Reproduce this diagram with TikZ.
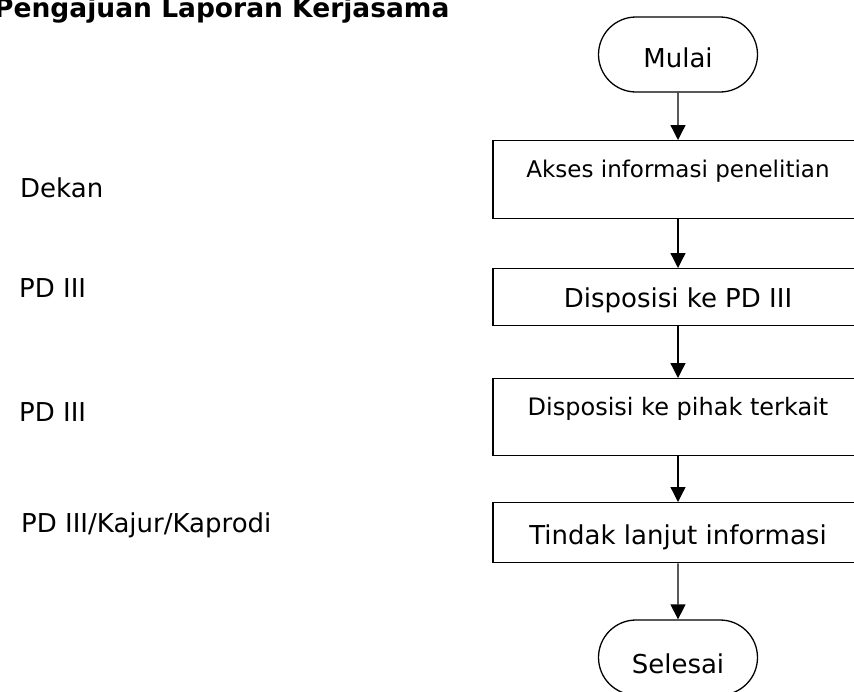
\documentclass[tikz,border=0pt]{standalone}
\usepackage{fontspec}
\setmainfont{DejaVu Sans}
\usetikzlibrary{arrows.meta,positioning,shapes.misc}
\tikzset{
  termbox/.style={
    rounded rectangle,
    draw=black,
    line width=1.3pt,
    minimum width=159pt,
    minimum height=75pt,
    inner sep=0pt,
    font=\fontsize{26}{30}\selectfont
  },
  procbox/.style={
    rectangle,
    draw=black,
    line width=1.3pt,
    minimum width=370pt,
    inner sep=0pt,
    align=center,
    font=\fontsize{26}{30}\selectfont
  },
  rolelabel/.style={anchor=base west,inner sep=0pt,font=\fontsize{26}{30}\selectfont},
  flowarrow/.style={-{Triangle[length=15pt,width=15pt]},line width=1.3pt,draw=black}
}

\begin{document}
\begin{tikzpicture}[x=1pt,y=-1pt]
  \useasboundingbox (0,0) rectangle (854,691);
  \clip (0,0) rectangle (854,691);

  \node[anchor=base west, inner sep=0pt, font=\fontsize{26.5}{30}\selectfont\bfseries] (judul) at (-6,17) {Pengajuan Laporan Kerjasama};

  \node[rolelabel] (dekan) at (20,197) {Dekan};
  \node[rolelabel] (pd1) at (19,297) {PD III};
  \node[rolelabel] (pd2) at (19,421) {PD III};
  \node[rolelabel] (pdall) at (21,532) {PD III/Kajur/Kaprodi};

  \node[termbox, text height=25pt, text depth=0pt] (mulai) at (678,54.5) {Mulai};
  \node[procbox, anchor=north, text height=37pt, text depth=41pt, font=\fontsize{23}{27}\selectfont] (akses) at (678,140) {Akses informasi penelitian};
  \node[procbox, anchor=north, text height=39pt, text depth=18pt] (dispd) at (678,268) {Disposisi ke PD III};
  \node[procbox, anchor=north, text height=37pt, text depth=40pt, font=\fontsize{24}{28}\selectfont] (dispihak) at (678,378) {Disposisi ke pihak terkait};
  \node[procbox, anchor=north, text height=42pt, text depth=18pt] (tindak) at (678,502) {Tindak lanjut informasi};
  \node[termbox, text height=31pt, text depth=0pt] (selesai) at (678,657.5) {Selesai};

  \draw[flowarrow] (mulai) -- (akses);
  \draw[flowarrow] (akses) -- (dispd);
  \draw[flowarrow] (dispd) -- (dispihak);
  \draw[flowarrow] (dispihak) -- (tindak);
  \draw[flowarrow] (tindak) -- (selesai);
\end{tikzpicture}
\end{document}
